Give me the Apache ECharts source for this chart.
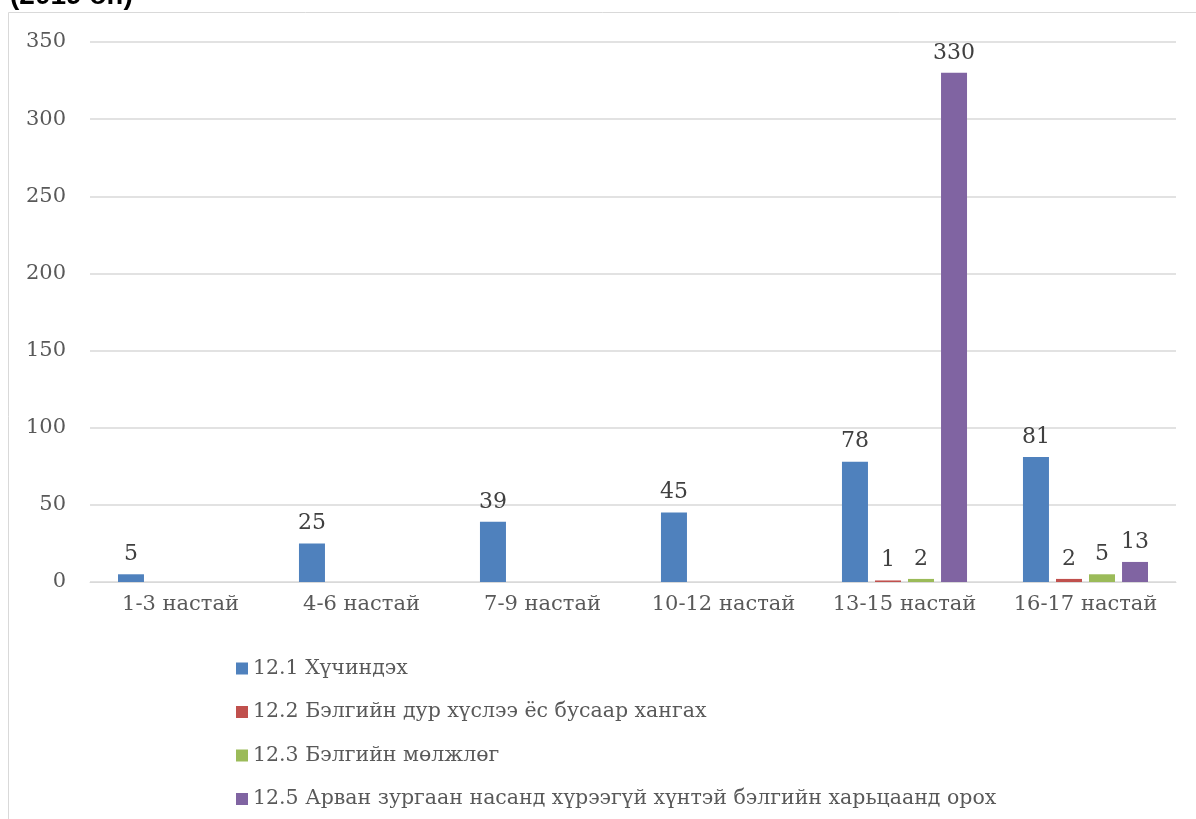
<!DOCTYPE html>
<html><head><meta charset="utf-8">
<script src="https://cdn.jsdelivr.net/npm/echarts@6/dist/echarts.min.js"></script>
<style>html,body{margin:0;padding:0;background:#fff}#c{width:1196px;height:819px}</style>
</head><body><div id="c"></div>
<script>
const categories = ['1-3 настай','4-6 настай','7-9 настай','10-12 настай','13-15 настай','16-17 настай'];
const seriesNames = ['12.1 Хүчиндэх','12.2 Бэлгийн дур хүслээ ёс бусаар хангах','12.3 Бэлгийн мөлжлөг','12.5 Арван зургаан насанд хүрээгүй хүнтэй бэлгийн харьцаанд орох'];
const s1 = [5, 25, 39, 45, 78, 81];
const s2 = [null, null, null, null, 1, 2];
const s3 = [null, null, null, null, 2, 5];
const s4 = [null, null, null, null, 330, 13];
const yTicks = {min: 0, max: 350, interval: 50};
const colors = ['#4F81BD','#C0504D','#9BBB59','#8064A2'];
const font = '"DejaVu Serif", "Liberation Serif", serif';
const chart = echarts.init(document.getElementById('c'));
const mk = (name, data, i) => ({
  name, type: 'bar', data, barWidth: 26, barGap: '27%',
  itemStyle: {color: colors[i]},
  label: {show: true, position: 'top', distance: 9, color: '#404040', fontSize: 22, fontFamily: font},
  emphasis: {disabled: true}
});
chart.setOption({
  animation: false,
  title: {text: '(2019 он)', left: 5, top: -23, textStyle: {fontFamily: 'Liberation Sans, Arial, sans-serif', fontWeight: 'bold', fontSize: 28, color: '#000'}},
  graphic: [{type: 'polyline', shape: {points: [[8.5, 830], [8.5, 12.5], [1200, 12.5]]}, style: {stroke: '#d9d9d9', lineWidth: 1, fill: null}}],
  grid: {left: 90, right: 20, top: 42, bottom: 237, containLabel: false},
  legend: {
    orient: 'vertical', left: 231, top: 653, itemWidth: 12, itemHeight: 12, itemGap: 22.5,
    icon: 'rect', data: seriesNames,
    textStyle: {fontFamily: font, fontSize: 20.5, color: '#595959'}
  },
  xAxis: {
    type: 'category', data: categories,
    axisLine: {lineStyle: {color: '#d9d9d9'}}, axisTick: {show: false},
    axisLabel: {interval: 0, fontFamily: font, fontSize: 21, color: '#595959', margin: 12}
  },
  yAxis: {
    type: 'value', min: yTicks.min, max: yTicks.max, interval: yTicks.interval,
    axisLine: {show: false}, axisTick: {show: false},
    splitLine: {lineStyle: {color: '#d9d9d9', width: 1.5}},
    axisLabel: {fontFamily: font, fontSize: 21, color: '#595959', margin: 24}
  },
  series: [mk(seriesNames[0], s1, 0), mk(seriesNames[1], s2, 1), mk(seriesNames[2], s3, 2), mk(seriesNames[3], s4, 3)]
});
</script></body></html>
